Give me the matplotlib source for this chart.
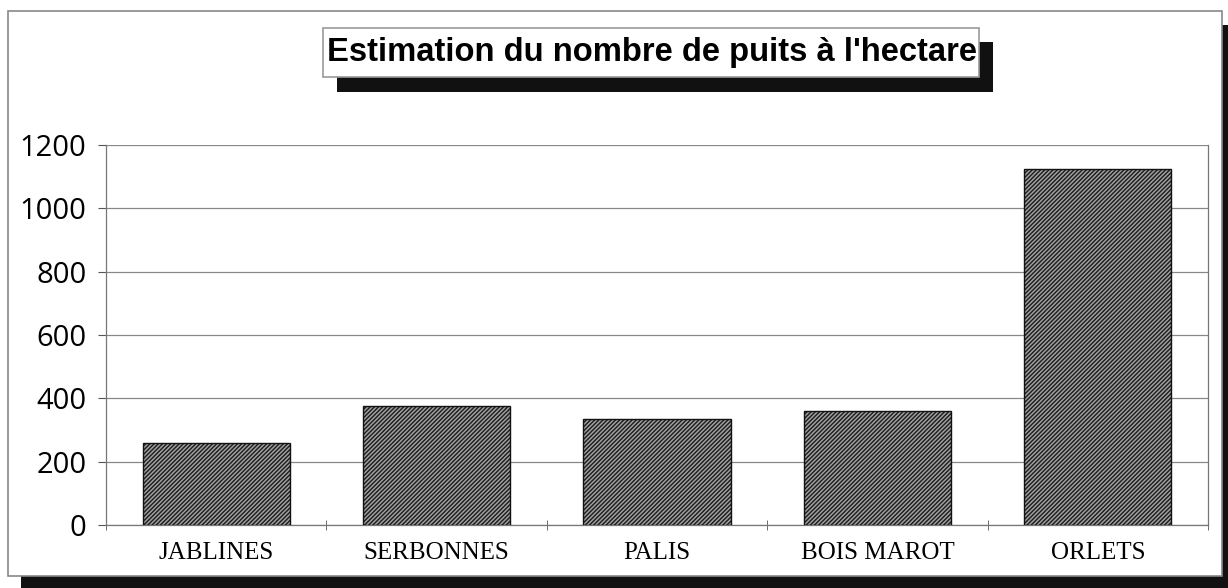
import matplotlib
matplotlib.use("Agg")
import matplotlib.pyplot as plt
from matplotlib.patches import Rectangle

categories = ["JABLINES", "SERBONNES", "PALIS", "BOIS MAROT", "ORLETS"]
values = [260, 375, 335, 360, 1125]
yticks = [0, 200, 400, 600, 800, 1000, 1200]
title = "Estimation du nombre de puits à l'hectare"

W, H = 1228, 588
fig = plt.figure(figsize=(W / 100, H / 100), dpi=100)
fig.patch.set_facecolor("white")

def px_rect(x0, y0, x1, y1, **kw):
    r = Rectangle((x0 / W, 1 - y1 / H), (x1 - x0) / W, (y1 - y0) / H,
                  transform=fig.transFigure, **kw)
    fig.patches.append(r)
    return r

# outer frame shadow and frame
px_rect(21, 25, 1228, 588, facecolor="#111111", edgecolor="none", zorder=0)
px_rect(8, 11, 1222, 576, facecolor="white", edgecolor="#888888", linewidth=1.2, zorder=1)

# title box shadow and box
px_rect(337, 42, 993, 92, facecolor="#111111", edgecolor="none", zorder=2)
px_rect(323, 28, 979, 77, facecolor="white", edgecolor="#999999", linewidth=1.2, zorder=3)
fig.text(652 / W, 1 - 53 / H, title, ha="center", va="center",
         fontsize=23.6, fontweight="bold", family="Liberation Sans", zorder=4)

ax = fig.add_axes([106 / W, 1 - 525 / H, (1208 - 106) / W, (525 - 145) / H])
ax.set_zorder(5)
ax.patch.set_alpha(0)

x = list(range(len(categories)))
plt.rcParams["hatch.linewidth"] = 1.1
ax.bar(x, values, width=0.667, color="#1c1c1c", edgecolor="#a0a0a0",
       hatch="////////", linewidth=0, zorder=3)
ax.bar(x, values, width=0.667, fill=False, edgecolor="#111111",
       linewidth=1.0, zorder=4)

ax.set_xlim(-0.5, len(categories) - 0.5)
ax.set_ylim(0, 1200)
ax.set_yticks(yticks)
ax.set_yticklabels([str(v) for v in yticks], family="Open Sans", fontsize=21)
ax.yaxis.grid(True, color="#888888", linewidth=0.9)
ax.set_axisbelow(True)

ax.set_xticks(x)
ax.set_xticklabels(categories, family="Liberation Serif", fontsize=18)
ax.tick_params(axis="x", length=0, pad=12)
ax.set_xticks([i - 0.5 for i in range(len(categories) + 1)], minor=True)
ax.tick_params(axis="x", which="minor", length=7, direction="inout", color="#555555")
ax.tick_params(axis="y", length=6, direction="out", color="#555555", pad=8)

for side in ["left", "bottom", "right", "top"]:
    ax.spines[side].set_color("#777777")
    ax.spines[side].set_linewidth(0.9)
ax.spines["top"].set_visible(False)

fig.savefig("out.png", dpi=100)
